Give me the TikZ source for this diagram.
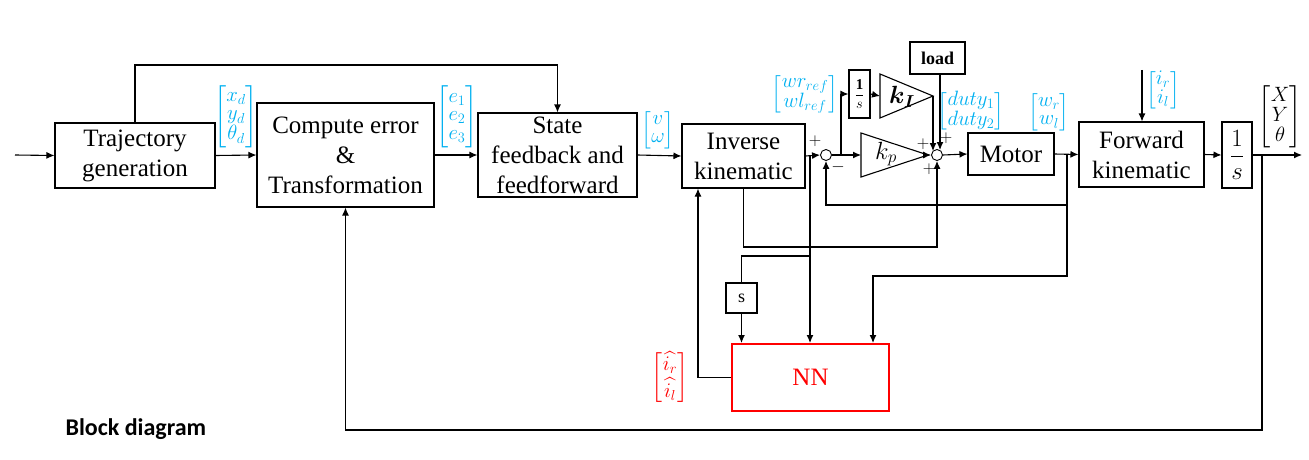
\documentclass[tikz,border=0pt]{standalone}
\usepackage{amsmath}
\usepackage{bm}
\usepackage{fontspec}
\setmainfont{Liberation Serif}
\newfontfamily\calib{Carlito}
\usetikzlibrary{arrows.meta,calc}
\definecolor{cyanc}{RGB}{0,176,240}
\definecolor{redc}{RGB}{255,0,0}
\begin{document}
\begin{tikzpicture}[x=1pt,y=-1pt,
  line width=1.1pt,
  arr/.style={-{Latex[length=8pt,width=7pt]}},
  blk/.style={draw,rectangle,inner sep=0pt,align=center,font=\fontsize{25}{30}\selectfont},
  sumc/.style={draw,circle,minimum size=11pt,inner sep=0pt,line width=0.9pt},
  cy/.style={text=cyanc,inner sep=0pt,font=\fontsize{20}{18.5}\selectfont},
  sgn/.style={inner sep=0pt,font=\fontsize{16}{16}\selectfont}]
\useasboundingbox (0,0) rectangle (1309,460);
% blocks
\node[blk,minimum width=160pt,minimum height=65pt] (traj) at (135,155.5) {Trajectory\\generation};
\node[blk,minimum width=177pt,minimum height=104pt] (comp) at (345.5,155) {Compute error\\\&\\Transformation};
\node[blk,minimum width=159pt,minimum height=84pt] (state) at (557.5,155) {State\\feedback and\\feedforward};
\node[blk,minimum width=123pt,minimum height=64pt] (inv) at (743.5,156) {Inverse\\kinematic};
\node[blk,minimum width=21pt,minimum height=48pt,font=\fontsize{15}{15}\selectfont] (os1) at (859.5,94) {$\dfrac{\mathbf{1}}{s}$};
\node[blk,minimum width=55pt,minimum height=32pt,font=\fontsize{18}{18}\selectfont\bfseries] (load) at (937.5,58) {load};
\node[blk,minimum width=86pt,minimum height=42pt] (motor) at (1011,154) {Motor};
\node[blk,minimum width=125pt,minimum height=65pt] (fwd) at (1141.5,154.5) {Forward\\kinematic};
\node[blk,minimum width=30pt,minimum height=66pt,font=\fontsize{27}{27}\selectfont] (int) at (1237,155) {$\dfrac{1}{s}$};
\node[blk,minimum width=31pt,minimum height=30pt,font=\fontsize{18}{18}\selectfont] (sbox) at (741.5,298) {s};
\node[blk,draw=redc,text=redc,line width=2pt,minimum width=157pt,minimum height=67pt] (nn) at (810.5,377.5) {NN};
% sums
\node[sumc] (s1) at (826,155) {};
\node[sumc] (s2) at (937,155) {};
% gains (triangles)
\coordinate (kpin) at (861,155);
\coordinate (kpA) at (928,155);
\draw (861,133) -- (928,155) -- (861,177) -- cycle;
\node[inner sep=0pt,font=\fontsize{25}{25}\selectfont] (kp) at (886,154) {$k_p$};
\coordinate (kIin) at (880,96);
\coordinate (kIA) at (933,96);
\draw (880,74) -- (933,96) -- (880,118) -- cycle;
\node[inner sep=0pt,font=\fontsize{24}{24}\selectfont] (kI) at (902,97) {$\bm{k_I}$};
% coordinates
\coordinate (in) at (15,155);
\coordinate (out) at (1302,155);
\coordinate (topy) at (0,65);
\coordinate (b1) at (841,155);
\coordinate (ibr) at (810,155);
\coordinate (mbr) at (1067,155);
\coordinate (obr) at (1262,155);
\coordinate (boty) at (0,430);
\coordinate (fby) at (0,205);
\coordinate (iy) at (0,247);
\coordinate (sy) at (0,256);
\coordinate (n3) at (873,276);
\coordinate (nnx) at (698,0);
\coordinate (irtop) at (1142,70);
\coordinate (kIend) at (933,151);
\coordinate (ldtop) at (940,74);
\coordinate (ldend) at (940,150);
% main path
\draw[arr] (in) -- (traj.west);
\draw[arr] (traj.east) -- (comp.west);
\draw[arr] (traj.north) |- (topy -| state.north) -- (state.north);
\draw[arr] (comp.east) -- (state.west);
\draw[arr] (state.east) -- (inv.west);
\draw[arr] (inv.east) -- (s1.west);
\draw[arr] (s1.east) -- (kpin);
\draw[arr] (b1) |- (os1.west);
\draw[arr] (os1.east) -- (kIin);
\draw[arr] (kIA) -- (kIend);
\draw[arr] (ldtop) -- (ldend);
\draw[arr] (kpA) -- (s2.west);
\draw[arr] (s2.east) -- (motor.west);
\draw[arr] (motor.east) -- (fwd.west);
\draw[arr] (irtop) -- (irtop |- fwd.north);
\draw[arr] (fwd.east) -- (int.west);
\draw[arr] (int.east) -- (out);
% feedbacks
\draw[arr] (obr) |- (boty -| comp.south) -- (comp.south);
\draw[arr] (mbr) |- (fby -| s1.south) -- (s1.south);
\draw[arr] (mbr |- fby) |- (n3) -- (n3 |- nn.north);
\draw[arr] (inv.south) |- (iy -| s2.south) -- (s2.south);
\draw[arr] (ibr) -- (ibr |- nn.north);
\draw (ibr |- sy) -| (sbox.north);
\draw[arr] (sbox.south) -- (sbox.south |- nn.north);
\draw[arr] (nn.west) -| (inv.south -| nnx);
% signs
\node[sgn] (p1) at (815,141) {$+$};
\node[sgn] (m1) at (838,167) {$-$};
\node[sgn] (p2) at (923,144) {$+$};
\node[sgn] (p3) at (946,138) {$+$};
\node[sgn] (p4) at (929,169) {$+$};
% signal labels
\node[cy] (lxd) at (236,117) {$\begin{bmatrix}x_d\\ y_d\\ \theta_d\end{bmatrix}$};
\node[cy] (le) at (457,117) {$\begin{bmatrix}e_1\\ e_2\\ e_3\end{bmatrix}$};
\node[cy] (lv) at (658,130) {$\begin{bmatrix}v\\ \omega\end{bmatrix}$};
\node[cy] (lwr) at (805,94) {$\begin{bmatrix}wr_{ref}\\ wl_{ref}\end{bmatrix}$};
\node[cy] (ld) at (971,111) {$\begin{bmatrix}duty_1\\ duty_2\end{bmatrix}$};
\node[cy] (lw) at (1049,112) {$\begin{bmatrix}w_r\\ w_l\end{bmatrix}$};
\node[cy] (li) at (1163,90) {$\begin{bmatrix}i_r\\ i_l\end{bmatrix}$};
\node[cy,text=black] (lX) at (1280,117) {$\begin{bmatrix}X\\ Y\\ \theta\end{bmatrix}$};
\node[cy,text=redc,font=\fontsize{20}{24}\selectfont] (lih) at (670,378) {$\begin{bmatrix}\widehat{i_r}\\ \widehat{i_l}\end{bmatrix}$};
% title
\node[anchor=base west,inner sep=0pt,font=\calib\bfseries\fontsize{24}{24}\selectfont] (title) at (65,435) {Block diagram};
\end{tikzpicture}
\end{document}
